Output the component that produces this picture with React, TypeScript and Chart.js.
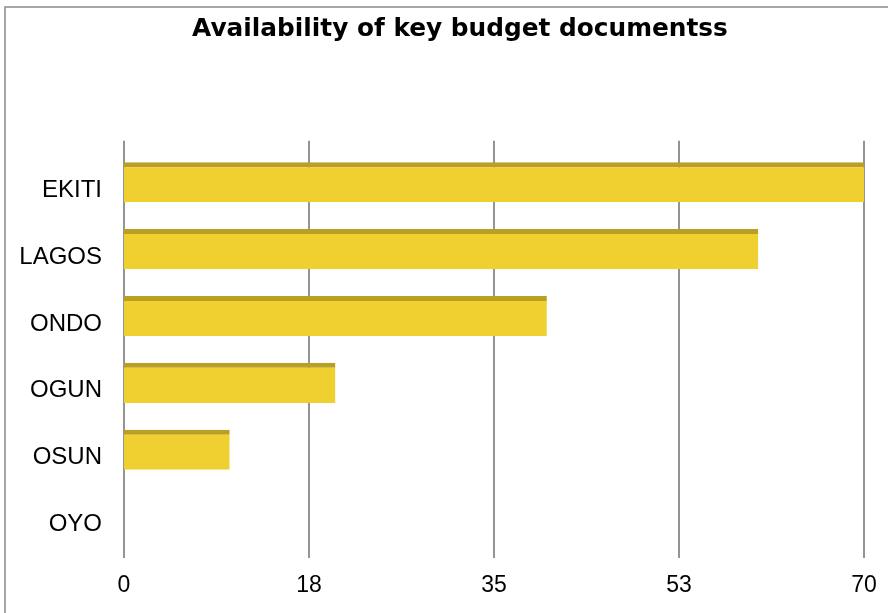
import React, { useEffect, useRef } from 'react';
import { Chart, registerables } from 'chart.js';

Chart.register(...registerables);

const TITLE = 'Availability of key budget documentss';
const STATES = ['EKITI', 'LAGOS', 'ONDO', 'OGUN', 'OSUN', 'OYO'];
const DOCS = [70, 60, 40, 20, 10, 0];
const X_MIN = 0;
const X_MAX = 70;
const X_STEP = 17.5;

const CANVAS_W = 920;
const CANVAS_H = 613;

const bgFramePlugin = {
  id: 'bgFrame',
  beforeDraw(chart: any) {
    const { ctx, width, height } = chart;
    ctx.save();
    ctx.fillStyle = '#ffffff';
    ctx.fillRect(0, 0, width, height);
    ctx.strokeStyle = '#8a8a8a';
    ctx.lineWidth = 1.5;
    ctx.strokeRect(5, 7, width + 50, height + 50);
    ctx.restore();
  },
};

const gridPlugin = {
  id: 'extendedGrid',
  beforeDatasetsDraw(chart: any) {
    const { ctx, chartArea, scales } = chart;
    const xs = scales.x;
    ctx.save();
    ctx.strokeStyle = '#949494';
    ctx.lineWidth = 2;
    xs.ticks.forEach((t: any) => {
      const px = Math.round(xs.getPixelForValue(t.value));
      ctx.beginPath();
      ctx.moveTo(px, chartArea.top - 8);
      ctx.lineTo(px, chartArea.bottom + 8);
      ctx.stroke();
    });
    ctx.restore();
  },
};

export default function App() {
  const ref = useRef<HTMLCanvasElement | null>(null);

  useEffect(() => {
    if (!ref.current) return;
    const xTickFont = { family: '"Liberation Sans", Arial, sans-serif', size: 23 };
    const yTickFont = { family: '"Liberation Sans", Arial, sans-serif', size: 24 };
    const chart = new Chart(ref.current, {
      type: 'bar',
      data: {
        labels: STATES,
        datasets: [
          {
            data: DOCS,
            backgroundColor: '#F0D030',
            borderColor: '#B9A024',
            borderWidth: { top: 5, right: 0, bottom: 0, left: 0 },
            borderSkipped: false,
            categoryPercentage: 1,
            barPercentage: 0.6,
          },
        ],
      },
      options: {
        indexAxis: 'y',
        animation: false,
        responsive: false,
        layout: { padding: { left: 0, right: 0, top: 0, bottom: 15 } },
        plugins: {
          legend: { display: false },
          tooltip: { enabled: false },
          title: {
            display: true,
            text: TITLE,
            color: '#000000',
            font: { family: '"DejaVu Sans", Verdana, sans-serif', size: 24.8, weight: 'bold' },
            padding: { top: 15, bottom: 104 },
          },
        },
        scales: {
          x: {
            min: X_MIN,
            max: X_MAX,
            grid: { display: false, drawTicks: false },
            border: { display: false },
            ticks: {
              stepSize: X_STEP,
              autoSkip: false,
              maxRotation: 0,
              color: '#000000',
              font: xTickFont,
              padding: 22,
              callback: (v: any) => String(Math.round(Number(v))),
            },
            afterFit: (s: any) => {
              s.height = 48;
              s.paddingRight = 56;
            },
          },
          y: {
            grid: { display: false, drawTicks: false },
            border: { display: false },
            ticks: {
              color: '#000000',
              font: yTickFont,
              padding: 22,
              labelOffset: 8,
            },
            afterFit: (s: any) => {
              s.width = 124;
            },
          },
        },
      },
      plugins: [bgFramePlugin, gridPlugin],
    } as any);
    return () => chart.destroy();
  }, []);

  return (
    <div
      style={{
        position: 'fixed',
        left: 0,
        top: 0,
        width: 888,
        height: 613,
        overflow: 'hidden',
        background: '#ffffff',
      }}
    >
      <canvas ref={ref} width={CANVAS_W} height={CANVAS_H} style={{ display: 'block' }} />
    </div>
  );
}
